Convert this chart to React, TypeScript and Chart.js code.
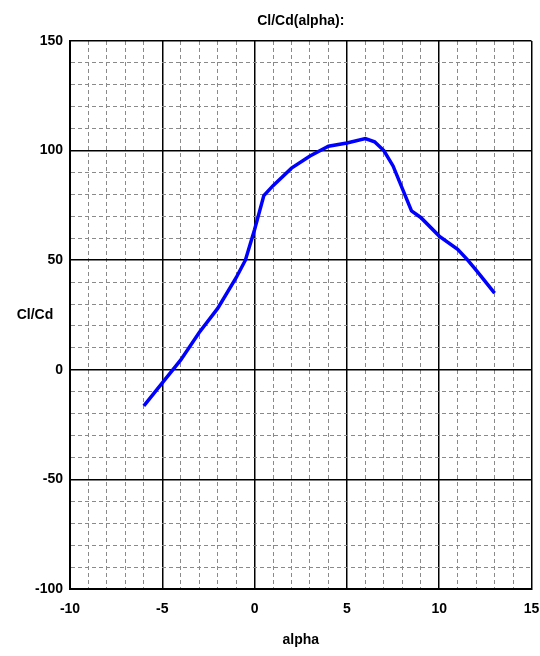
import React, { useEffect, useRef } from "react";
import { Chart, registerables } from "chart.js";

Chart.register(...registerables);

const TITLE = "Cl/Cd(alpha):";
const X_TITLE = "alpha";
const Y_TITLE = "Cl/Cd";

const ALPHA = [-6, -5, -4, -3, -2, -1, -0.5, 0, 0.5, 1, 2, 3, 4, 5, 6, 6.5, 7, 7.5, 8.5, 9, 10, 11, 11.5, 12, 13];
const CL_CD = [-16.5, -6, 4.5, 17, 28, 42, 50, 64, 79.5, 84, 92, 97.5, 102, 103.5, 105.5, 104, 100, 93, 72.5, 69.5, 61, 55, 50.5, 45.5, 35];

const X_MIN = -10;
const X_MAX = 15;
const X_MAJOR = 5;
const X_MINOR = 1;
const Y_MIN = -100;
const Y_MAX = 150;
const Y_MAJOR = 50;
const Y_MINOR = 10;

const FONT_FAMILY = "'Liberation Sans', Arial, sans-serif";

export default function App() {
  const ref = useRef<HTMLCanvasElement>(null);

  useEffect(() => {
    document.body.style.margin = "0";
    const canvas = ref.current;
    if (!canvas) return;

    const isMajor = (ctx: any, step: number) =>
      ctx && ctx.tick && Math.abs(ctx.tick.value % step) < 1e-9;

    const textPlugin = {
      id: "texts",
      afterDraw(chart: any) {
        const c = chart.ctx;
        const area = chart.chartArea;
        c.save();
        c.fillStyle = "#000";
        c.font = `bold 14px ${FONT_FAMILY}`;
        c.textAlign = "center";
        c.textBaseline = "middle";
        const cx = (area.left + area.right) / 2;
        c.fillText(TITLE, cx, 21);
        c.fillText(X_TITLE, cx, 640);
        c.fillText(Y_TITLE, 35, (area.top + area.bottom) / 2);
        c.restore();
      },
    };

    const gridFor = (step: number) => ({
      display: true,
      drawTicks: false,
      drawOnChartArea: true,
      color: (ctx: any) => (isMajor(ctx, step) ? "#000" : "#8a8a8a"),
      lineWidth: (ctx: any) => (isMajor(ctx, step) ? 1.5 : 1),
    });
    const borderFor = (step: number) => ({
      display: true,
      color: "#000",
      width: 2,
      dash: (ctx: any) => (ctx && ctx.tick && !isMajor(ctx, step) ? [4, 3] : []),
    });

    const chart = new Chart(canvas, {
      type: "line",
      data: {
        datasets: [
          {
            data: ALPHA.map((a, i) => ({ x: a, y: CL_CD[i] })),
            borderColor: "#0000ff",
            backgroundColor: "#0000ff",
            borderWidth: 3.5,
            pointRadius: 0,
            tension: 0,
            fill: false,
          },
        ],
      },
      options: {
        animation: false,
        responsive: false,
        maintainAspectRatio: false,
        layout: { padding: { left: 0, top: 41, right: 8.5, bottom: 0 } },
        plugins: {
          legend: { display: false },
          title: { display: false },
          tooltip: { enabled: false },
        },
        scales: {
          x: {
            type: "linear",
            min: X_MIN,
            max: X_MAX,
            grid: gridFor(X_MAJOR),
            border: borderFor(X_MAJOR),
            ticks: {
              stepSize: X_MINOR,
              autoSkip: false,
              maxRotation: 0,
              padding: 12,
              color: "#000",
              font: { family: FONT_FAMILY, size: 14, weight: "bold" },
              callback: (v: any) => (Math.abs(v % X_MAJOR) < 1e-9 ? String(v) : ""),
            },
            afterFit: (scale: any) => {
              scale.height = 67;
              scale.paddingLeft = 0;
              scale.paddingRight = 0;
            },
          },
          y: {
            type: "linear",
            min: Y_MIN,
            max: Y_MAX,
            grid: gridFor(Y_MAJOR),
            border: borderFor(Y_MAJOR),
            ticks: {
              stepSize: Y_MINOR,
              autoSkip: false,
              padding: 7,
              color: "#000",
              font: { family: FONT_FAMILY, size: 14, weight: "bold" },
              callback: (v: any) => (Math.abs(v % Y_MAJOR) < 1e-9 ? String(v) : ""),
            },
            afterFit: (scale: any) => {
              scale.width = 70;
              scale.paddingTop = 0;
              scale.paddingBottom = 0;
            },
          },
        },
      } as any,
      plugins: [textPlugin],
    });

    return () => chart.destroy();
  }, []);

  return (
    <div style={{ width: 540, height: 656, background: "#fff" }}>
      <canvas ref={ref} width={540} height={656} style={{ display: "block" }} />
    </div>
  );
}
